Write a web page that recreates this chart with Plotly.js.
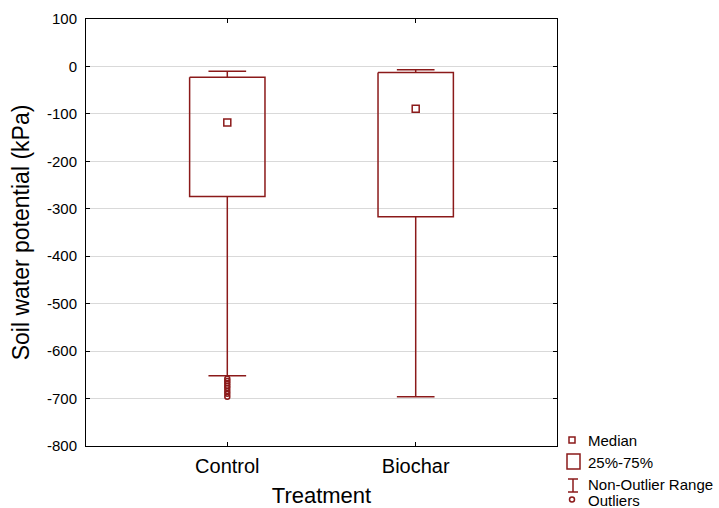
<!DOCTYPE html>
<html><head><meta charset="utf-8">
<script src="https://cdn.plot.ly/plotly-3.0.1.min.js"></script>
<style>html,body{margin:0;padding:0;background:#fff}</style>
</head><body><div id="chart" style="width:719px;height:508px"></div>
<script>
// ---- data ----
const categories = ['Control', 'Biochar'];
const medians = [-118, -89];
const q1 = [-274, -317];
const q3 = [-23, -13];
const whiskerMin = [-652, -696];
const whiskerMax = [-10, -7];
const outlierCategory = 'Control';
const outlierValues = [-658, -663, -668, -673, -678, -684, -690, -696];
const yTickVals = [100, 0, -100, -200, -300, -400, -500, -600, -700, -800];
const yTickText = ['100', '0', '-100', '-200', '-300', '-400', '-500', '-600', '-700', '-800'];
const legendLabels = ['Median', '25%-75%', 'Non-Outlier Range', 'Outliers'];

// ---- style ----
const RED = '#8b1a1a';
const BW = 0.2;   // box half width (category units)
const CW = 0.1;   // whisker cap half width

const traces = [];
categories.forEach((c, i) => {
  traces.push({
    type: 'scatter', mode: 'lines', hoverinfo: 'skip', showlegend: false,
    x: [i - BW, i + BW, i + BW, i - BW, i - BW],
    y: [q3[i], q3[i], q1[i], q1[i], q3[i]],
    line: {color: RED, width: 1.5}
  });
  traces.push({
    type: 'scatter', mode: 'lines', hoverinfo: 'skip', showlegend: false,
    x: [i, i, null, i, i, null, i - CW, i + CW, null, i - CW, i + CW],
    y: [q3[i], whiskerMax[i], null, q1[i], whiskerMin[i], null,
        whiskerMax[i], whiskerMax[i], null, whiskerMin[i], whiskerMin[i]],
    line: {color: RED, width: 1.5}, connectgaps: false
  });
});
traces.push({
  type: 'scatter', mode: 'markers', showlegend: false,
  x: categories.map((c, i) => i), y: medians,
  marker: {symbol: 'square-open', size: 7, color: RED, line: {width: 1.5, color: RED}}
});
const oi = categories.indexOf(outlierCategory);
traces.push({
  type: 'scatter', mode: 'markers', showlegend: false,
  x: outlierValues.map(() => oi), y: outlierValues,
  marker: {symbol: 'circle-open', size: 5, color: RED, line: {width: 1.5, color: RED}}
});

// legend glyphs (pixel offsets from plot's bottom-right corner)
function pshape(type, x0, x1, y0, y1) {
  return {type: type, xref: 'paper', yref: 'paper', xsizemode: 'pixel', ysizemode: 'pixel',
    xanchor: 1, yanchor: 0, x0: x0, x1: x1, y0: y0, y1: y1,
    line: {color: RED, width: 1.5}, fillcolor: 'rgba(0,0,0,0)'};
}
const shapes = [
  pshape('rect', 12, 18, 3, 9),
  pshape('rect', 10, 23, -8, -23),
  pshape('line', 16, 16, -33, -46),
  pshape('line', 11, 21, -33, -33),
  pshape('line', 11, 21, -46, -46),
  pshape('circle', 12.5, 17.5, -51, -56)
];
const ly = [6, -16, -38, -54];
const annotations = legendLabels.map((t, k) => ({
  text: t, xref: 'paper', yref: 'paper', x: 1, y: 0, xanchor: 'left', yanchor: 'middle',
  xshift: 29, yshift: ly[k], showarrow: false,
  font: {family: 'Liberation Sans, Arial, sans-serif', size: 15, color: '#000'}
}));

const layout = {
  width: 719, height: 508,
  margin: {l: 86, r: 162, t: 19, b: 62},
  paper_bgcolor: '#fff', plot_bgcolor: '#fff',
  font: {family: 'Liberation Sans, Arial, sans-serif', color: '#000'},
  showlegend: false,
  xaxis: {
    range: [-0.75, 1.75], tickvals: categories.map((c, i) => i), ticktext: categories,
    showgrid: false, zeroline: false, showline: true, linecolor: '#000', linewidth: 1,
    mirror: 'ticks', ticks: 'inside', ticklen: 4, tickcolor: '#000',
    tickfont: {size: 20}, ticklabelstandoff: 2,
    title: {text: 'Treatment', font: {size: 22}, standoff: 15}
  },
  yaxis: {
    range: [-800, 100], tickvals: yTickVals, ticktext: yTickText,
    showgrid: true, gridcolor: '#d9d9d9', gridwidth: 1,
    zeroline: false, showline: true, linecolor: '#000', linewidth: 1,
    mirror: 'ticks', ticks: 'inside', ticklen: 4, tickcolor: '#000',
    tickfont: {size: 15}, ticklabelstandoff: 5,
    title: {text: 'Soil water potential (kPa)', font: {size: 23}, standoff: 10}
  },
  shapes: shapes,
  annotations: annotations
};
Plotly.newPlot('chart', traces, layout, {staticPlot: true, displayModeBar: false});
</script></body></html>
